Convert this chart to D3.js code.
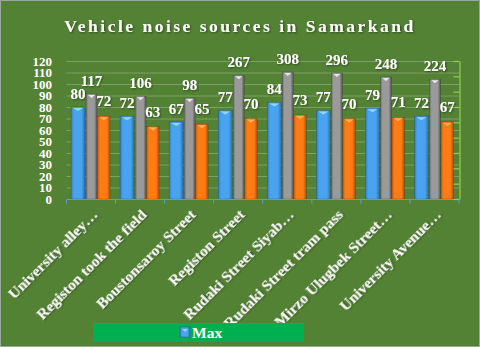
<!DOCTYPE html>
<html lang="en"><head>
<meta charset="utf-8">
<title>Vehicle noise sources in Samarkand</title>
<script src="https://cdn.jsdelivr.net/npm/d3@7"></script>
<style>
  body { margin: 0; background: #fff; }
  svg text { font-family: "Liberation Serif", "Times New Roman", serif; font-weight: bold; fill: #fff; }
</style>
</head>
<body>
<svg width="480" height="347"></svg>
<script>
// data
var categories = ["University alley…", "Registon took the field", "Boustonsaroy Street", "Registon Street",
                  "Rudaki Street Siyab…", "Rudaki Street tram pass", "Mirzo Ulugbek Street…", "University Avenue…"];
var minValues = [80, 72, 67, 77, 84, 77, 79, 72];
var maxValues = [117, 106, 98, 267, 308, 296, 248, 224];
var avgValues = [72, 63, 65, 70, 73, 70, 71, 67];
var leftTicks = [0, 10, 20, 30, 40, 50, 60, 70, 80, 90, 100, 110, 120];

var svg = d3.select("svg"),
    width = +svg.attr("width"),
    height = +svg.attr("height");

var plotL = 66.5, plotR = 459, plotT = 61, plotB = 199;

// background
svg.append("rect").attr("x", 0.5).attr("y", 0.5)
   .attr("width", width - 1).attr("height", height - 1)
   .attr("fill", "#548235").attr("stroke", "#9aa89a");

// gradients for the bars
var defs = svg.append("defs");
function grad(id, edge, mid, edge2) {
  var g = defs.append("linearGradient").attr("id", id).attr("x1", "0").attr("x2", "1");
  g.append("stop").attr("offset", "0").attr("stop-color", edge);
  g.append("stop").attr("offset", "0.2").attr("stop-color", mid);
  g.append("stop").attr("offset", "0.75").attr("stop-color", mid);
  g.append("stop").attr("offset", "1").attr("stop-color", edge2);
}
grad("gBlue", "#2f7cc8", "#4aa3ef", "#2a70b8");
grad("gGray", "#6e6e6e", "#9a9a9a", "#555555");
grad("gOrange", "#c85a0c", "#ff7c14", "#b14f0a");

var filt = defs.append("filter").attr("id", "shadow");
filt.append("feDropShadow").attr("dx", 1).attr("dy", 1).attr("stdDeviation", 0.8)
    .attr("flood-color", "#000").attr("flood-opacity", 0.45);

// title
svg.append("text")
   .attr("x", width / 2).attr("y", 32)
   .attr("text-anchor", "middle")
   .style("font-size", "17.5px")
   .style("letter-spacing", "2.5px")
   .attr("filter", "url(#shadow)")
   .text("Vehicle noise sources in Samarkand");

var x = d3.scaleBand().domain(categories).range([plotL, plotR]);
var y = d3.scaleLinear().domain([0, 120]).range([plotB, plotT]);
// secondary axis for Max (no labels shown in the original)
var y2 = d3.scaleLog().domain([1.12, 503]).range([plotB, plotT]);
var y2ticks = d3.scaleLinear().domain([0, 9]).range([plotB, plotT]);

// gridlines
svg.append("g").selectAll("line")
   .data(leftTicks.slice(1))
   .enter().append("line")
   .attr("x1", plotL).attr("x2", plotR)
   .attr("y1", function(d) { return y(d) + 0.5; })
   .attr("y2", function(d) { return y(d) + 0.5; })
   .attr("stroke", "#7c9f64").attr("stroke-width", 1);

// left tick labels
svg.append("g").selectAll("text")
   .data(leftTicks)
   .enter().append("text")
   .attr("x", 52).attr("y", function(d) { return y(d); })
   .attr("dy", "0.35em")
   .attr("text-anchor", "end")
   .style("font-size", "13px")
   .text(function(d) { return d; });

// bars
var series = [
  { name: "Min", values: minValues, fill: "url(#gBlue)", tip: "#8fd8ff", scale: y, off: -20, w: 14 },
  { name: "Max", values: maxValues, fill: "url(#gGray)", tip: "#e8e8e8", scale: y2, off: -5, w: 11 },
  { name: "Avg", values: avgValues, fill: "url(#gOrange)", tip: "#ffb060", scale: y, off: 6.5, w: 12.5 }
];

series.forEach(function(s) {
  var g = svg.append("g");
  var bars = g.selectAll("g").data(s.values).enter().append("g");
  bars.append("rect")
      .attr("x", function(d, i) { return x(categories[i]) + x.bandwidth() / 2 + s.off; })
      .attr("y", function(d) { return s.scale(d); })
      .attr("width", s.w)
      .attr("height", function(d) { return plotB - s.scale(d); })
      .attr("fill", s.fill)
      .attr("stroke", "rgba(0,0,0,0.25)").attr("stroke-width", 0.6);
  bars.append("path")
      .attr("d", function(d, i) {
        var x0 = x(categories[i]) + x.bandwidth() / 2 + s.off, y0 = s.scale(d);
        return "M" + (x0 + 2) + "," + (y0 + 1) + "L" + (x0 + s.w - 2) + "," + (y0 + 1) +
               "L" + (x0 + s.w / 2) + "," + (y0 + 4) + "Z";
      })
      .attr("fill", s.tip);
  bars.append("text")
      .attr("x", function(d, i) { return x(categories[i]) + x.bandwidth() / 2 + s.off + s.w / 2; })
      .attr("y", function(d) { return s.scale(d) - (s.name == "Avg" ? 10 : 8); })
      .attr("text-anchor", "middle")
      .style("font-size", "15px")
      .attr("filter", "url(#shadow)")
      .text(function(d) { return d; });
});

// x axis
var xAxis = svg.append("g")
   .attr("transform", "translate(0," + (plotB + 0.5) + ")");
xAxis.append("line").attr("x1", plotL).attr("x2", plotR).attr("stroke", "#5b9bd5").attr("stroke-width", 1.2);
xAxis.selectAll("line.tk")
   .data(d3.range(categories.length + 1))
   .enter().append("line").attr("class", "tk")
   .attr("x1", function(i) { return plotL + i * x.bandwidth(); })
   .attr("x2", function(i) { return plotL + i * x.bandwidth(); })
   .attr("y1", 0).attr("y2", 4)
   .attr("stroke", "#5b9bd5");

svg.append("g").selectAll("text")
   .data(categories)
   .enter().append("text")
   .attr("transform", function(d) {
     return "translate(" + (x(d) + x.bandwidth() / 2 + 4) + "," + (plotB + 13) + ") rotate(-45)";
   })
   .attr("text-anchor", "end")
   .attr("dy", "0.35em")
   .style("font-size", "15.5px")
   .attr("filter", "url(#shadow)")
   .text(function(d) { return d; });

// right axis (tick marks only)
var rAxis = svg.append("g")
   .attr("transform", "translate(" + (plotR + 0.5) + ",0)")
   .call(d3.axisRight(y2ticks).ticks(9).tickSizeInner(-6).tickSizeOuter(0).tickFormat(""));
rAxis.selectAll("line, path").attr("stroke", "#92d050").attr("stroke-width", 1.2);

// legend
var lg = svg.append("g");
lg.append("rect").attr("x", 93).attr("y", 323).attr("width", 211).attr("height", 19).attr("fill", "#00b050");
lg.append("rect").attr("x", 180).attr("y", 327).attr("width", 10).attr("height", 10)
  .attr("fill", "url(#gBlue)").attr("stroke", "#2f5f8f").attr("stroke-width", 0.6);
lg.append("path").attr("d", "M182,329L188,329L185,332Z").attr("fill", "#8fd8ff");
lg.append("text").attr("x", 192).attr("y", 337.5).style("font-size", "15.5px").text("Max");
</script>
</body>
</html>
